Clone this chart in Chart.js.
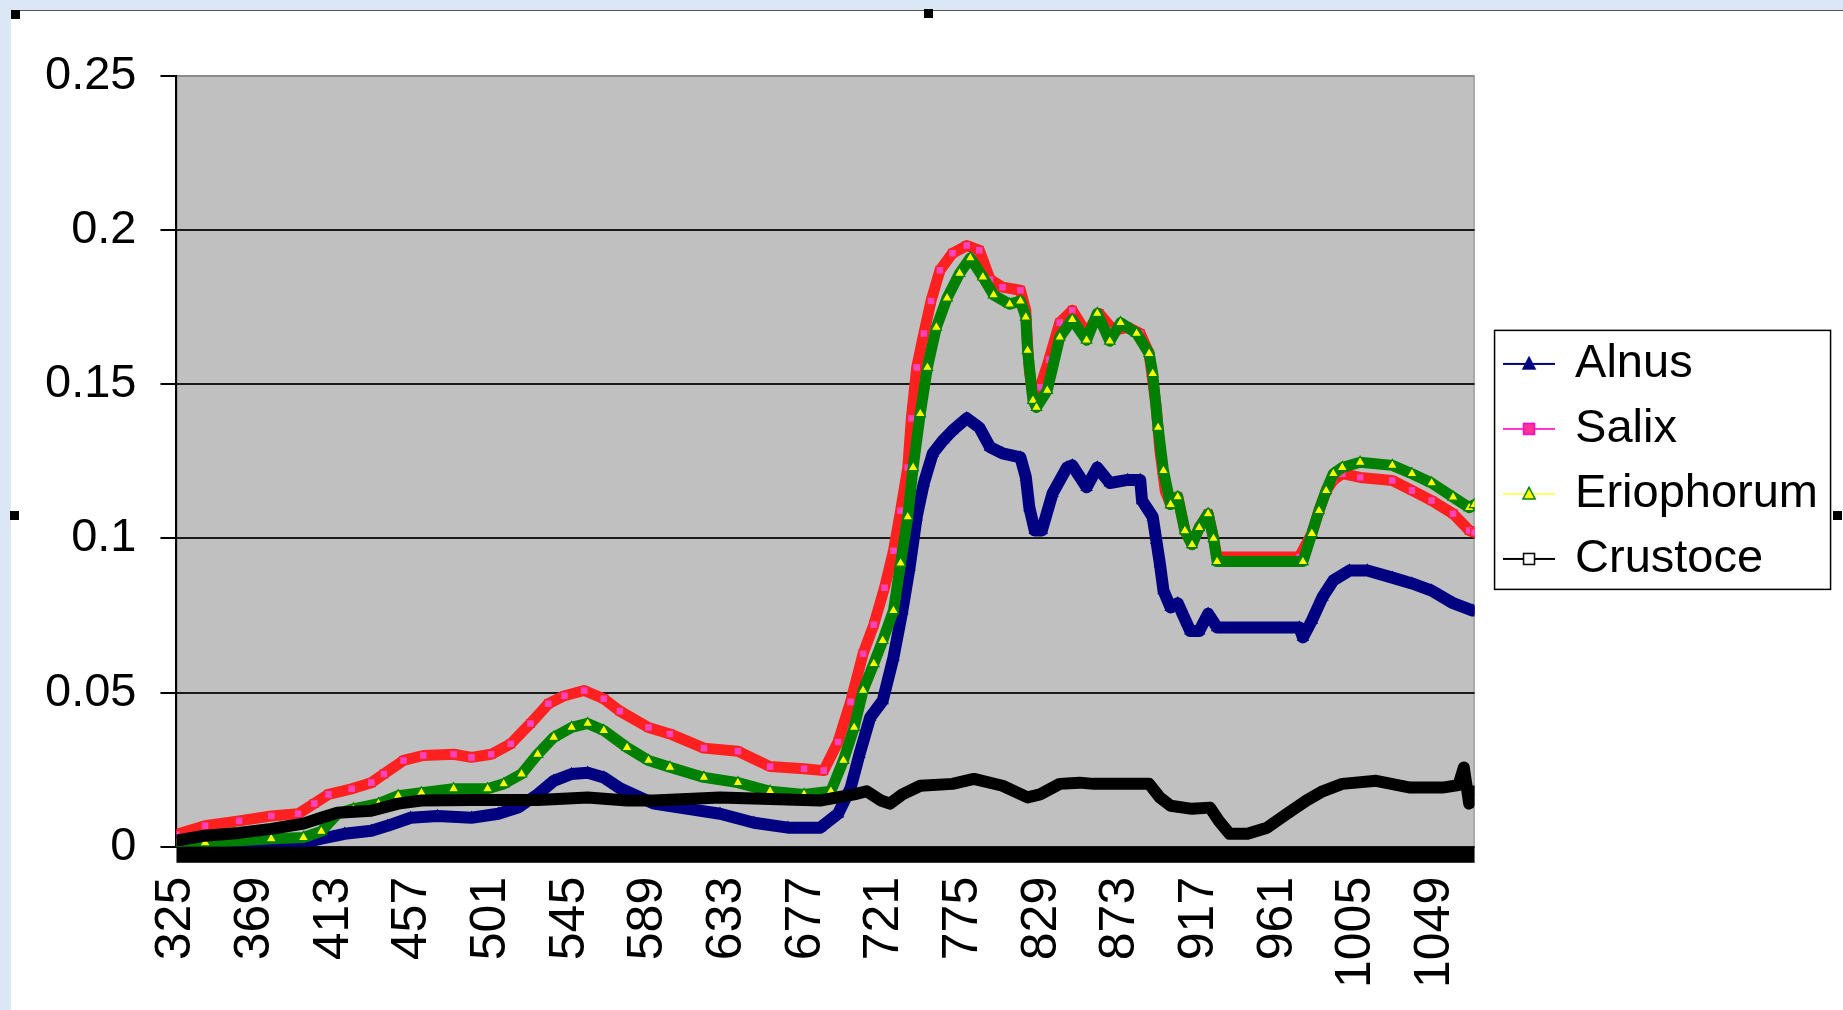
<!DOCTYPE html>
<html>
<head>
<meta charset="utf-8">
<title>Alnus / Salix / Eriophorum / Crustoce</title>
<script src="https://cdn.jsdelivr.net/npm/chart.js@4"></script>
<style>
    html, body {
        margin: 0;
        padding: 0;
        width: 1843px;
        height: 1010px;
        overflow: hidden;
        background: #dbe7f5;
    }
    #panel {
        position: absolute;
        left: 11px;
        top: 10px;
        width: 1832px;
        height: 1000px;
        background: #ffffff;
        border-top: 1px solid #555;
        box-sizing: border-box;
    }
    #main-chart {
        position: absolute;
        left: 0;
        top: -1px;
    }
    .handle {
        position: absolute;
        width: 9px;
        height: 9px;
        background: #000;
    }
</style>
</head>
<body>
<div id="panel">
    <canvas id="main-chart" width="1832" height="1000"></canvas>
</div>
<div class="handle" style="left:11px; top:10px;"></div>
<div class="handle" style="left:924px; top:9px;"></div>
<div class="handle" style="left:10px; top:511px;"></div>
<div class="handle" style="left:1833px; top:511px;"></div>

<script>
// Category axis: every 44th channel gets a wavelength label
const XTICKS = ['325', '369', '413', '457', '501', '545', '589', '633', '677',
    '721', '775', '829', '873', '917', '961', '1005', '1049'];
const LABEL_EVERY = 44;
const LAST_CHANNEL = 726;

// Values, at channel positions
const alnusPos = [0, 16, 44, 71, 81, 94, 109, 118, 131, 146, 165, 180, 191, 202, 211, 221, 230, 239, 248,
    267, 286, 304, 323, 342, 360, 370, 377, 382, 388, 395, 401, 406, 410, 414, 418, 423, 429, 434, 442,
    449, 455, 462, 472, 475, 477, 480, 484, 490, 498, 501, 509, 515, 522, 532, 539, 540, 546, 548, 550,
    552, 556, 560, 567, 572, 577, 582, 628, 630, 635, 641, 647, 656, 666, 680, 691, 702, 714, 725];
const alnusVals = [0.0005, 0.0005, 0.001, 0.0013, 0.0026, 0.0042, 0.0052, 0.0068, 0.0094, 0.010, 0.0094,
    0.0107, 0.0127, 0.017, 0.0214, 0.0236, 0.024, 0.0225, 0.019, 0.014, 0.0123, 0.0107, 0.0078, 0.0062,
    0.0062, 0.0107, 0.019, 0.030, 0.042, 0.0474, 0.0614, 0.0766, 0.0906, 0.107, 0.118, 0.1276, 0.132,
    0.135, 0.139, 0.136, 0.1296, 0.1276, 0.1263, 0.120, 0.110, 0.1026, 0.1026, 0.1146, 0.123, 0.1237,
    0.1166, 0.123, 0.118, 0.119, 0.119, 0.1123, 0.107, 0.0994, 0.0918, 0.0831, 0.0776, 0.079, 0.070,
    0.070, 0.0756, 0.0711, 0.0711, 0.0679, 0.0734, 0.081, 0.0864, 0.0896, 0.0896, 0.0873, 0.0854,
    0.0831, 0.079, 0.0766];

const salixPos = [0, 16, 35, 53, 68, 77, 85, 98, 109, 116, 127, 138, 155, 165, 176, 187, 198, 208, 217,
    228, 239, 248, 264, 276, 295, 314, 332, 351, 362, 370, 377, 384, 390, 396, 401, 405, 409, 411, 414,
    418, 422, 427, 434, 442, 449, 455, 462, 472, 475, 476, 477, 479, 483, 488, 494, 501, 509, 516, 524,
    532, 539, 544, 548, 550, 553, 556, 560, 564, 568, 572, 577, 580, 582, 628, 635, 639, 643, 647, 652,
    662, 680, 691, 702, 714, 723, 726];
const salixVals = [0.004, 0.0068, 0.0084, 0.010, 0.0107, 0.014, 0.017, 0.0188, 0.0208, 0.0236, 0.028,
    0.0296, 0.030, 0.029, 0.030, 0.0334, 0.040, 0.0464, 0.049, 0.0507, 0.048, 0.044, 0.0387, 0.0366,
    0.032, 0.031, 0.026, 0.0253, 0.0247, 0.034, 0.047, 0.0626, 0.072, 0.084, 0.096, 0.109, 0.123, 0.139,
    0.1555, 0.1665, 0.177, 0.187, 0.1925, 0.195, 0.1935, 0.184, 0.1815, 0.1805, 0.174, 0.163, 0.1545,
    0.1458, 0.149, 0.158, 0.170, 0.174, 0.1665, 0.173, 0.1675, 0.1685, 0.1665, 0.160, 0.1425, 0.1285,
    0.1155, 0.111, 0.1135, 0.1025, 0.098, 0.1035, 0.108, 0.100, 0.094, 0.094, 0.1016, 0.109, 0.1155,
    0.119, 0.121, 0.1198, 0.1188, 0.1156, 0.1123, 0.108, 0.1026, 0.102];

const eriophorumPos = [0, 16, 53, 71, 81, 90, 99, 113, 124, 137, 155, 174, 183, 193, 202, 211, 221, 230,
    239, 252, 264, 276, 295, 314, 332, 351, 366, 373, 379, 384, 390, 395, 401, 405, 409, 412, 416, 420,
    425, 431, 438, 444, 451, 457, 466, 472, 475, 476, 479, 481, 487, 494, 501, 509, 515, 522, 528, 537,
    544, 546, 549, 552, 556, 560, 564, 568, 572, 577, 580, 582, 630, 635, 639, 643, 647, 652, 662, 680,
    691, 702, 714, 723, 726];
const eriophorumVals = [0.001, 0.0013, 0.0026, 0.003, 0.005, 0.0107, 0.0123, 0.014, 0.0166, 0.0175,
    0.0188, 0.0188, 0.0204, 0.0236, 0.030, 0.0355, 0.0387, 0.040, 0.0377, 0.0322, 0.028, 0.0258, 0.0225,
    0.0208, 0.018, 0.017, 0.018, 0.028, 0.0387, 0.0507, 0.0594, 0.0669, 0.0766, 0.092, 0.107, 0.123,
    0.1405, 0.1555, 0.1685, 0.178, 0.186, 0.191, 0.1848, 0.179, 0.176, 0.177, 0.1718, 0.161, 0.1448,
    0.1425, 0.148, 0.1653, 0.171, 0.1643, 0.173, 0.164, 0.170, 0.1665, 0.160, 0.1535, 0.136, 0.122,
    0.111, 0.1135, 0.1025, 0.098, 0.1035, 0.108, 0.100, 0.0925, 0.0925, 0.1016, 0.109, 0.1155, 0.121,
    0.123, 0.1247, 0.1237, 0.121, 0.118, 0.1134, 0.110, 0.111];

const crustocePos = [0, 16, 35, 53, 71, 81, 90, 109, 124, 137, 165, 202, 230, 252, 267, 304, 332, 360,
    379, 386, 394, 399, 406, 416, 434, 446, 462, 476, 483, 494, 505, 513, 532, 544, 550, 556, 568, 578,
    583, 589, 599, 610, 621, 632, 641, 652, 671, 690, 708, 717, 720, 723, 726];
const crustoceVals = [0.002, 0.0036, 0.0045, 0.0058, 0.0075, 0.0094, 0.011, 0.0117, 0.014, 0.015, 0.0152,
    0.0152, 0.016, 0.015, 0.015, 0.016, 0.0155, 0.015, 0.017, 0.018, 0.015, 0.014, 0.017, 0.0198, 0.0204,
    0.022, 0.0198, 0.016, 0.017, 0.0204, 0.0208, 0.0204, 0.0204, 0.0204, 0.016, 0.0133, 0.0123, 0.0127,
    0.0084, 0.0042, 0.0042, 0.0062, 0.0107, 0.015, 0.018, 0.0204, 0.0214, 0.0192, 0.0192, 0.020, 0.0257,
    0.014, 0.018];

const FONT = 'Arial, "Liberation Sans", sans-serif';

// Utilities
function toPoints(pos, vals) {
    return pos.map((p, i) => ({ x: p, y: vals[i] }));
}

function drawMarker(ctx, kind, x, y, size, fill, stroke) {
    ctx.beginPath();
    if (kind === 'triangle') {
        ctx.moveTo(x, y - size * 0.6);
        ctx.lineTo(x + size * 0.55, y + size * 0.45);
        ctx.lineTo(x - size * 0.55, y + size * 0.45);
        ctx.closePath();
    } else {
        ctx.rect(x - size / 2, y - size / 2, size, size);
    }
    ctx.fillStyle = fill;
    ctx.fill();
    ctx.lineWidth = 1.5;
    ctx.strokeStyle = stroke;
    ctx.stroke();
}

// small line + marker sample used as the legend symbol
function legendIcon(lineColor, kind, fill, stroke) {
    const c = document.createElement('canvas');
    c.width = 52;
    c.height = 20;
    const ctx = c.getContext('2d');
    ctx.strokeStyle = lineColor;
    ctx.lineWidth = 2;
    ctx.beginPath();
    ctx.moveTo(0, 10);
    ctx.lineTo(52, 10);
    ctx.stroke();
    drawMarker(ctx, kind, 26, 10, 11, fill, stroke);
    return c;
}

const legendIcons = [
    legendIcon('#000080', 'triangle', '#000080', '#000080'),
    legendIcon('#ff33cc', 'rect', '#ff3399', '#ff00cc'),
    legendIcon('#ffff66', 'triangle', '#ffff00', '#008000'),
    legendIcon('#000000', 'rect', '#ffffff', '#000000')
];

// Plugins: grey plot face, thick base bar, legend frame
const plotFace = {
    id: 'plotFace',
    beforeDraw(chart) {
        const { ctx, chartArea: a } = chart;
        ctx.save();
        ctx.fillStyle = '#c0c0c0';
        ctx.fillRect(a.left, a.top, a.right - a.left, a.bottom - a.top);
        ctx.strokeStyle = '#8a8a8a';
        ctx.lineWidth = 1;
        ctx.strokeRect(a.left + 0.5, a.top + 0.5, a.right - a.left - 1, a.bottom - a.top);
        ctx.restore();
    },
    afterDraw(chart) {
        const { ctx, chartArea: a } = chart;
        ctx.save();
        ctx.fillStyle = '#000';
        ctx.fillRect(a.left, a.bottom, a.right - a.left, 16);

        const lg = chart.legend;
        if (lg && lg.legendHitBoxes && lg.legendHitBoxes.length) {
            const boxes = lg.legendHitBoxes;
            const top = boxes[0].top - 10;
            const last = boxes[boxes.length - 1];
            const bottom = last.top + last.height + 7;
            ctx.strokeStyle = '#000';
            ctx.lineWidth = 1.5;
            ctx.strokeRect(lg.left + 6, top, 336, bottom - top);
        }
        ctx.restore();
    }
};

function series(label, pos, vals, band, width, kind, fill, stroke, radius, order) {
    return {
        label: label,
        data: toPoints(pos, vals),
        borderColor: band,
        borderWidth: width,
        borderJoinStyle: 'round',
        borderCapStyle: 'round',
        tension: 0,
        pointStyle: kind,
        pointRadius: radius,
        pointBackgroundColor: fill,
        pointBorderColor: stroke,
        pointBorderWidth: 1.2,
        order: order
    };
}

const chartCanvas = document.getElementById('main-chart');

new Chart(chartCanvas, {
    type: 'line',
    data: {
        datasets: [
            series('Alnus', alnusPos, alnusVals, '#000080', 12, 'triangle', '#000080', '#000080', 6, 4),
            series('Salix', salixPos, salixVals, '#ff2020', 11, 'rect', '#ff44bb', '#ff2020', 5.5, 3),
            series('Eriophorum', eriophorumPos, eriophorumVals, '#008000', 11, 'triangle', '#ffff00', '#008000', 6, 2),
            series('Crustoce', crustocePos, crustoceVals, '#000000', 12, 'rect', 'rgba(0,0,0,0)', '#000000', 5, 1)
        ]
    },
    options: {
        responsive: false,
        animation: false,
        layout: {
            padding: { left: 10, top: 66, right: 15, bottom: 8 }
        },
        plugins: {
            tooltip: { enabled: false },
            legend: {
                position: 'right',
                fullSize: false,
                maxWidth: 400,
                labels: {
                    usePointStyle: true,
                    pointStyleWidth: 45,
                    padding: 18,
                    color: '#000',
                    font: { family: FONT, size: 47 },
                    generateLabels: (chart) => chart.data.datasets.map((ds, i) => ({
                        text: ds.label,
                        datasetIndex: i,
                        pointStyle: legendIcons[i],
                        fillStyle: 'rgba(0,0,0,0)',
                        strokeStyle: 'rgba(0,0,0,0)',
                        lineWidth: 0,
                        hidden: false,
                        fontColor: '#000'
                    }))
                }
            }
        },
        scales: {
            x: {
                type: 'linear',
                min: 0,
                max: LAST_CHANNEL,
                afterBuildTicks: (axis) => {
                    axis.ticks = XTICKS.map((t, i) => ({ value: i * LABEL_EVERY }));
                },
                grid: {
                    display: true,
                    drawOnChartArea: false,
                    drawTicks: true,
                    tickLength: 16,
                    color: 'rgba(0,0,0,0)'
                },
                border: { display: false },
                ticks: {
                    autoSkip: false,
                    minRotation: 90,
                    maxRotation: 90,
                    padding: 14,
                    color: '#000',
                    font: { family: FONT, size: 50 },
                    callback: (value, index) => XTICKS[index]
                }
            },
            y: {
                min: 0,
                max: 0.25,
                grid: {
                    color: (ctx) => (ctx.tick && ctx.tick.value > 0.249 ? '#8a8a8a' : '#1a1a1a'),
                    tickColor: '#000',
                    lineWidth: 2,
                    tickLength: 16
                },
                border: { display: true, color: '#000', width: 2 },
                ticks: {
                    stepSize: 0.05,
                    padding: 24,
                    color: '#000',
                    font: { family: FONT, size: 47 },
                    callback: (value) => String(+value.toFixed(2))
                }
            },
            // spacer between the plot and the legend
            gap: {
                type: 'linear',
                position: 'right',
                display: true,
                grid: { display: false, drawTicks: false },
                border: { display: false },
                ticks: { display: false },
                afterFit: (scale) => { scale.width = 14; }
            }
        }
    },
    plugins: [plotFace]
});
</script>
</body>
</html>
